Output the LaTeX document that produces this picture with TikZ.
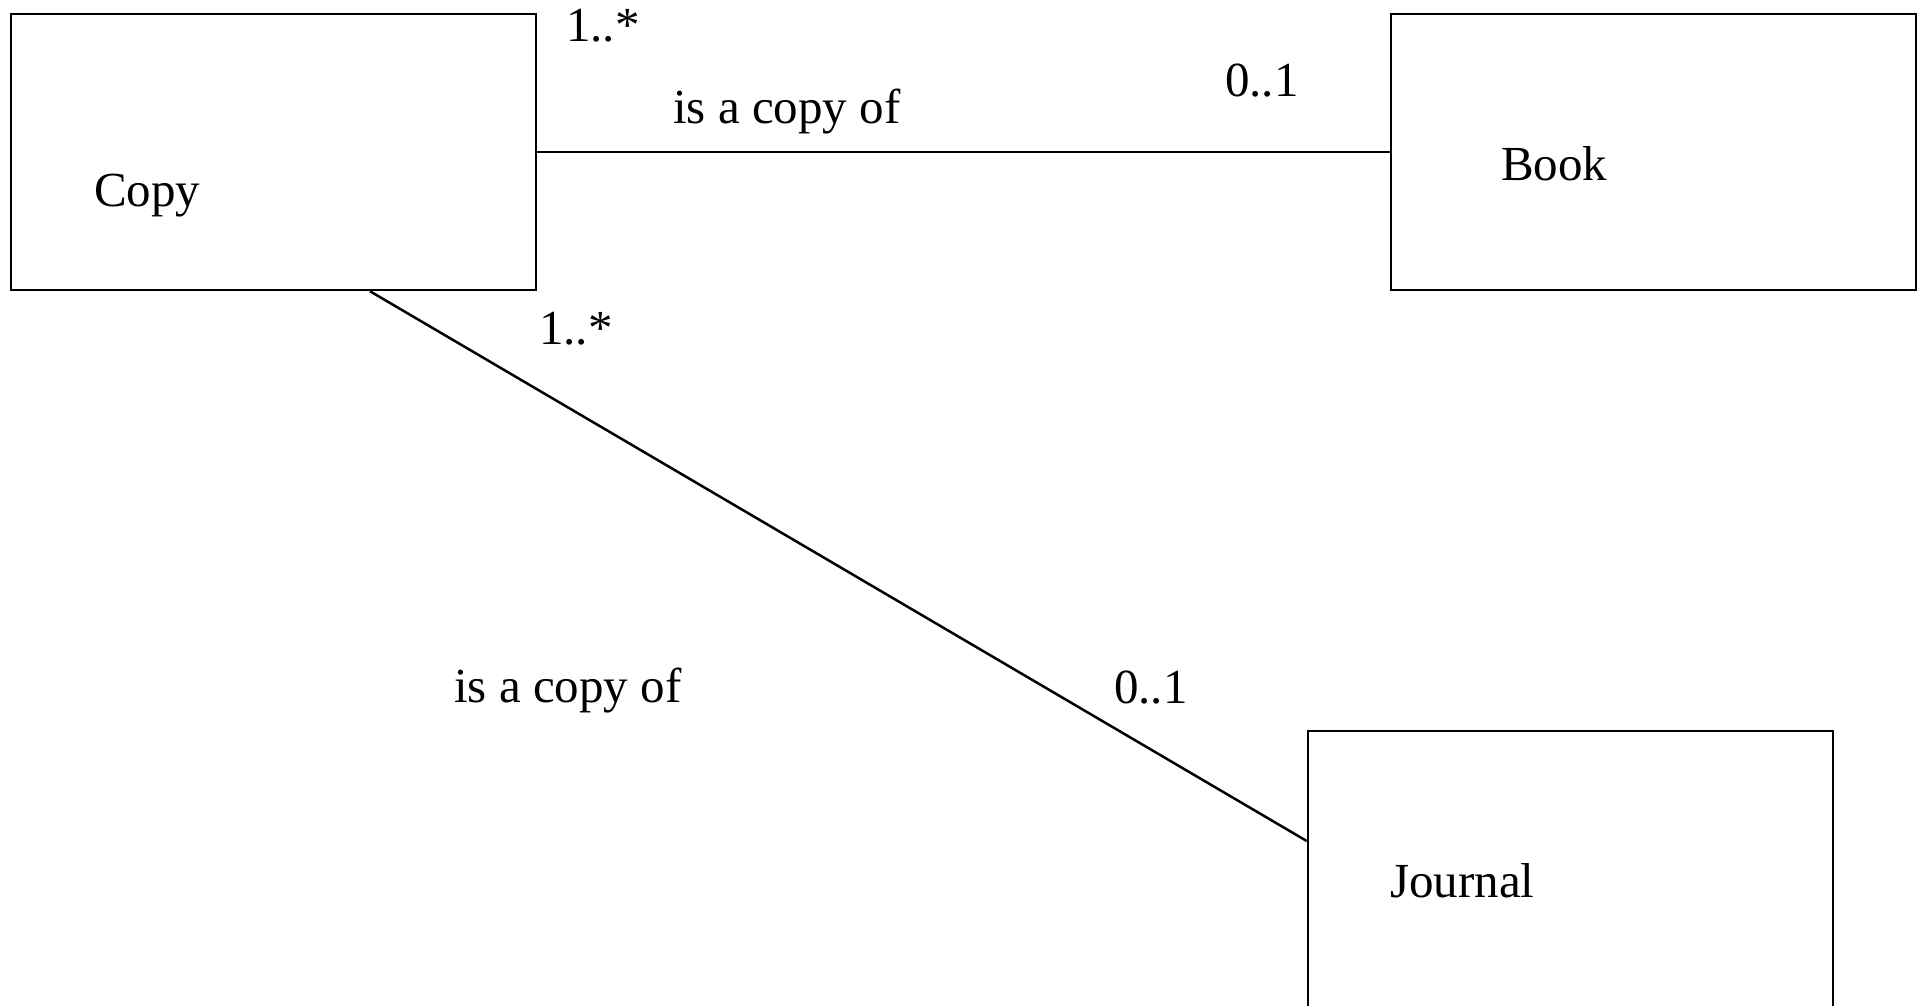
\documentclass[tikz,border=0pt]{standalone}
\usepackage{fontspec}
\setmainfont{Liberation Serif}
\begin{document}
\begin{tikzpicture}[x=1pt,y=-1pt,
  classbox/.style={draw=black,line width=2.5pt,minimum width=525pt,minimum height=276pt,inner sep=0pt},
  txt/.style={anchor=base west,inner sep=0pt,font=\fontsize{49}{58}\selectfont},
  assoc/.style={draw=black,line width=2.5pt}]
  \useasboundingbox (0,0) rectangle (1923,1006);
  \clip (0,0) rectangle (1923,1006);
  % classes
  \node[classbox] (copy) at (273.5,152) {};
  \node[classbox] (book) at (1653.5,152) {};
  \node[classbox] (journal) at (1570.5,869) {};
  \node[txt] (copyname) at (94,207) {Copy};
  \node[txt] (bookname) at (1501,180) {Book};
  \node[txt] (journalname) at (1390,897) {Journal};
  % association ends
  \coordinate (cj) at ([xshift=96.5pt]copy.south);
  \coordinate (jc) at ([yshift=28pt]journal.west);
  \draw[assoc] (copy.east) -- (book.west);
  \draw[assoc] (cj) -- (jc);
  % multiplicities and role names
  \node[txt] (m1) at (566,42) {1..*};
  \node[txt] (r1) at (673,124) {is a copy of};
  \node[txt] (m2) at (1225,97) {0..1};
  \node[txt] (m3) at (539,344) {1..*};
  \node[txt] (r2) at (454,702) {is a copy of};
  \node[txt] (m4) at (1114,703) {0..1};
\end{tikzpicture}
\end{document}
